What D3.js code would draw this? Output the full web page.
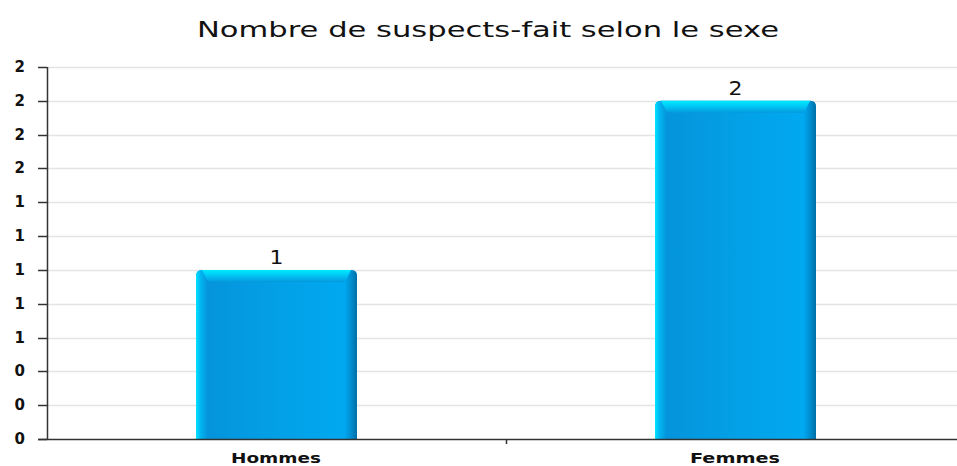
<!DOCTYPE html>
<html>
<head>
<meta charset="utf-8">
<script src="https://cdn.jsdelivr.net/npm/d3@7/dist/d3.min.js"></script>
<style>
  html, body { margin: 0; padding: 0; background: #fff; }
  svg { display: block; font-family: "DejaVu Sans", Verdana, sans-serif; }
</style>
</head>
<body>
<svg id="chart" width="957" height="466"></svg>
<script>
// Data
const categories = ["Hommes", "Femmes"];
const values = [1, 2];
const yTicks = [0, 0.2, 0.4, 0.6, 0.8, 1.0, 1.2, 1.4, 1.6, 1.8, 2.0, 2.2];
const title = "Nombre de suspects-fait selon le sexe";

const svg = d3.select("#chart");
const W = 957, H = 466;
const plot = { left: 47, right: 965, top: 67, bottom: 439 };

const x = d3.scaleBand().domain(categories).range([plot.left, plot.right]).paddingInner(0).paddingOuter(0);
const y = d3.scaleLinear().domain([0, 2.2]).range([plot.bottom, plot.top]);
const barW = 161;

// Gradients for the bevelled bars
const defs = svg.append("defs");
function lin(id, x1, y1, x2, y2, stops) {
  const g = defs.append("linearGradient").attr("id", id)
    .attr("x1", x1).attr("y1", y1).attr("x2", x2).attr("y2", y2);
  stops.forEach(([o, c]) => g.append("stop").attr("offset", o).attr("stop-color", c));
}
lin("bodyGrad", 0, 0, 1, 0, [[0, "#0592da"], [0.5, "#03a0e6"], [1, "#00aaf2"]]);
lin("leftGrad", 0, 0, 1, 0, [[0, "#00e4ff"], [0.35, "#00b8f2"], [1, "#0592da"]]);
lin("rightGrad", 0, 0, 1, 0, [[0, "#00a6ee"], [0.6, "#0088c8"], [1, "#006ea6"]]);
lin("topGrad", 0, 0, 0, 1, [[0, "#00eaff"], [0.5, "#00c4f4"], [1, "#0599dd"]]);

// Grid lines
svg.append("g").selectAll("line").data(yTicks.slice(1)).join("line")
  .attr("x1", plot.left).attr("x2", W)
  .attr("y1", d => Math.round(y(d)) + 0.5).attr("y2", d => Math.round(y(d)) + 0.5)
  .attr("stroke", "#e4e4e4").attr("stroke-width", 1.5);

// Bars
const b = 12, r = 6;
const bars = svg.append("g").selectAll("g").data(categories.map((c, i) => ({ c, v: values[i] }))).join("g");
bars.each(function (d) {
  const g = d3.select(this);
  const cx = x(d.c) + x.bandwidth() / 2;
  const x0 = Math.round(cx - barW / 2), x1 = x0 + barW;
  const t = y(d.v), bt = y(0);
  // body
  g.append("path")
    .attr("d", `M${x0},${bt} L${x0},${t + r} Q${x0},${t} ${x0 + r},${t} L${x1 - r},${t} Q${x1},${t} ${x1},${t + r} L${x1},${bt} Z`)
    .attr("fill", "url(#bodyGrad)");
  // left bevel
  g.append("path")
    .attr("d", `M${x0},${bt} L${x0},${t + r} Q${x0},${t} ${x0 + r},${t} L${x0 + b},${t + b} L${x0 + b},${bt} Z`)
    .attr("fill", "url(#leftGrad)");
  // right bevel
  g.append("path")
    .attr("d", `M${x1},${bt} L${x1},${t + r} Q${x1},${t} ${x1 - r},${t} L${x1 - b},${t + b} L${x1 - b},${bt} Z`)
    .attr("fill", "url(#rightGrad)");
  // top bevel
  g.append("path")
    .attr("d", `M${x0 + r},${t} L${x1 - r},${t} L${x1 - b},${t + b} L${x0 + b},${t + b} Z`)
    .attr("fill", "url(#topGrad)");
  // value label
  g.append("text")
    .attr("x", cx).attr("y", t - 6)
    .attr("text-anchor", "middle")
    .attr("font-size", 19)
    .attr("fill", "#111")
    .attr("textLength", 14).attr("lengthAdjust", "spacingAndGlyphs")
    .text(d3.format(".0f")(d.v));
});

// Y axis
const yAxis = svg.append("g");
yAxis.append("line")
  .attr("x1", plot.left + 0.5).attr("x2", plot.left + 0.5)
  .attr("y1", plot.top).attr("y2", plot.bottom + 1)
  .attr("stroke", "#333").attr("stroke-width", 1.5);
yAxis.selectAll("line.tick").data(yTicks).join("line").attr("class", "tick")
  .attr("x1", 38).attr("x2", plot.left)
  .attr("y1", d => Math.round(y(d)) + 0.5).attr("y2", d => Math.round(y(d)) + 0.5)
  .attr("stroke", "#333").attr("stroke-width", 1.5);
yAxis.selectAll("text").data(yTicks).join("text")
  .attr("x", 25).attr("y", d => y(d) + 5)
  .attr("text-anchor", "end")
  .attr("font-size", 15).attr("font-weight", "bold").attr("fill", "#111")
  .text(d => d3.format(".0f")(d));

// X axis
const xAxis = svg.append("g");
xAxis.append("line")
  .attr("x1", 38).attr("x2", W)
  .attr("y1", plot.bottom + 0.5).attr("y2", plot.bottom + 0.5)
  .attr("stroke", "#333").attr("stroke-width", 1.5);
xAxis.append("line")
  .attr("x1", x("Femmes") + 0.5).attr("x2", x("Femmes") + 0.5)
  .attr("y1", plot.bottom).attr("y2", plot.bottom + 5)
  .attr("stroke", "#333").attr("stroke-width", 1.5);
xAxis.selectAll("text").data(categories).join("text")
  .attr("x", d => x(d) + x.bandwidth() / 2 - 0.5)
  .attr("y", 463)
  .attr("text-anchor", "middle")
  .attr("font-size", 14).attr("font-weight", "bold").attr("fill", "#111")
  .attr("textLength", 90).attr("lengthAdjust", "spacingAndGlyphs")
  .text(d => d);

// Title
svg.append("text")
  .attr("x", 488).attr("y", 37)
  .attr("text-anchor", "middle")
  .attr("font-size", 22).attr("fill", "#111")
  .attr("textLength", 582).attr("lengthAdjust", "spacingAndGlyphs")
  .text(title);
</script>
</body>
</html>
